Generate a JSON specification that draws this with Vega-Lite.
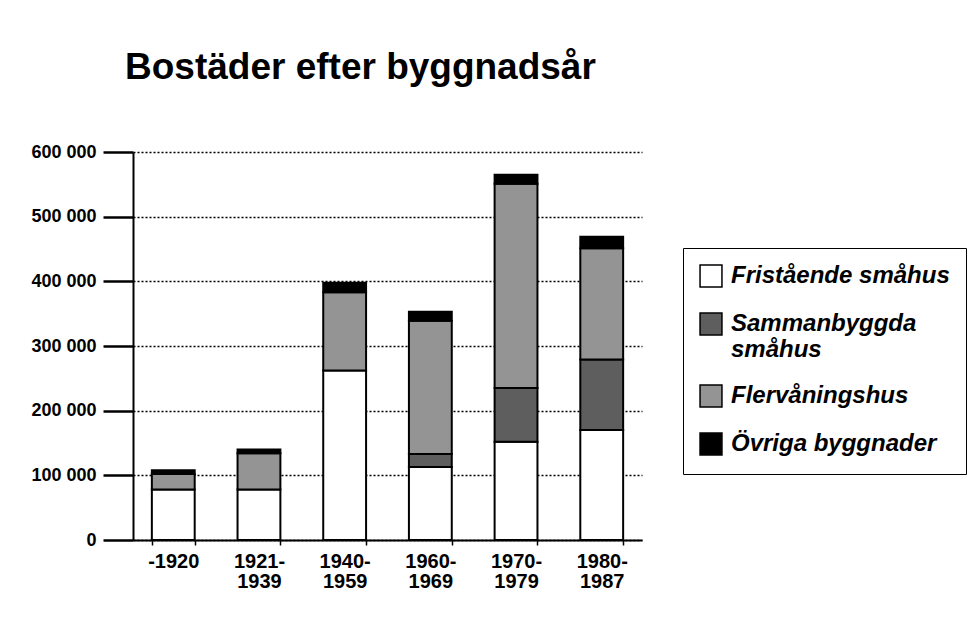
{
  "$schema": "https://vega.github.io/schema/vega-lite/v6.json",
  "autosize": "none",
  "width": 509,
  "height": 388,
  "padding": {"left": 133, "top": 152, "right": 333, "bottom": 94},
  "background": "white",
  "title": {
    "text": "Bostäder efter byggnadsår",
    "anchor": "start",
    "frame": "group",
    "dx": -8,
    "baseline": "alphabetic",
    "offset": 27,
    "font": "Liberation Sans",
    "fontSize": 37,
    "fontWeight": "bold",
    "color": "black"
  },
  "data": {
    "values": [
      {"period": "-1920", "typ": "Fristående småhus", "n": 1, "antal": 78000},
      {"period": "-1920", "typ": "Flervåningshus", "n": 3, "antal": 24000},
      {"period": "-1920", "typ": "Övriga byggnader", "n": 4, "antal": 6000},
      {"period": "1921-1939", "typ": "Fristående småhus", "n": 1, "antal": 78000},
      {"period": "1921-1939", "typ": "Flervåningshus", "n": 3, "antal": 56000},
      {"period": "1921-1939", "typ": "Övriga byggnader", "n": 4, "antal": 6000},
      {"period": "1940-1959", "typ": "Fristående småhus", "n": 1, "antal": 262000},
      {"period": "1940-1959", "typ": "Flervåningshus", "n": 3, "antal": 121000},
      {"period": "1940-1959", "typ": "Övriga byggnader", "n": 4, "antal": 15000},
      {"period": "1960-1969", "typ": "Fristående småhus", "n": 1, "antal": 113000},
      {"period": "1960-1969", "typ": "Sammanbyggda småhus", "n": 2, "antal": 20000},
      {"period": "1960-1969", "typ": "Flervåningshus", "n": 3, "antal": 206000},
      {"period": "1960-1969", "typ": "Övriga byggnader", "n": 4, "antal": 14000},
      {"period": "1970-1979", "typ": "Fristående småhus", "n": 1, "antal": 152000},
      {"period": "1970-1979", "typ": "Sammanbyggda småhus", "n": 2, "antal": 83000},
      {"period": "1970-1979", "typ": "Flervåningshus", "n": 3, "antal": 316000},
      {"period": "1970-1979", "typ": "Övriga byggnader", "n": 4, "antal": 14000},
      {"period": "1980-1987", "typ": "Fristående småhus", "n": 1, "antal": 170000},
      {"period": "1980-1987", "typ": "Sammanbyggda småhus", "n": 2, "antal": 109000},
      {"period": "1980-1987", "typ": "Flervåningshus", "n": 3, "antal": 172000},
      {"period": "1980-1987", "typ": "Övriga byggnader", "n": 4, "antal": 18000}
    ]
  },
  "mark": {"type": "bar", "stroke": "black", "strokeWidth": 2},
  "encoding": {
    "x": {
      "field": "period",
      "type": "nominal",
      "sort": null,
      "scale": {"paddingInner": 0.5, "paddingOuter": 0.22},
      "axis": {
        "title": null,
        "labelAngle": 0,
        "labelExpr": "length(datum.label) > 5 ? [slice(datum.label, 0, 5), slice(datum.label, 5)] : datum.label",
        "labelFont": "Liberation Sans",
        "labelFontSize": 20,
        "labelFontWeight": "bold",
        "labelColor": "black",
        "labelLineHeight": 20,
        "labelBaseline": "top",
        "labelPadding": 6,
        "tickBand": "extent",
        "tickSize": 5,
        "tickColor": "black",
        "tickWidth": 1.5,
        "domainColor": "black",
        "domainWidth": 2
      }
    },
    "y": {
      "field": "antal",
      "type": "quantitative",
      "stack": "zero",
      "scale": {"domain": [0, 600000], "nice": false},
      "axis": {
        "title": null,
        "values": [0, 100000, 200000, 300000, 400000, 500000, 600000],
        "labelExpr": "replace(format(datum.value, ','), /,/g, ' ')",
        "labelFont": "Liberation Sans",
        "labelFontSize": 18,
        "labelFontWeight": "bold",
        "labelColor": "black",
        "labelPadding": 7,
        "tickSize": 30,
        "tickColor": "black",
        "tickWidth": 2.5,
        "domainColor": "black",
        "domainWidth": 2,
        "grid": true,
        "gridColor": "black",
        "gridDash": [2, 2],
        "gridWidth": 1.5,
        "gridOpacity": 1
      }
    },
    "order": {"field": "n", "type": "quantitative", "sort": "ascending"},
    "fill": {
      "field": "typ",
      "type": "nominal",
      "scale": {
        "domain": ["Fristående småhus", "Sammanbyggda småhus", "Flervåningshus", "Övriga byggnader"],
        "range": ["#ffffff", "#5e5e5e", "#949494", "#000000"]
      },
      "legend": {
        "title": null,
        "orient": "none",
        "legendX": 550,
        "legendY": 96,
        "strokeColor": "black",
        "padding": 16,
        "symbolType": "square",
        "symbolSize": 480,
        "symbolStrokeColor": "black",
        "symbolStrokeWidth": 1.5,
        "symbolOpacity": 1,
        "labelExpr": "datum.label == 'Sammanbyggda småhus' ? ['Sammanbyggda', 'småhus'] : datum.label",
        "labelFont": "Liberation Sans",
        "labelFontSize": 24,
        "labelFontStyle": "italic",
        "labelFontWeight": "bold",
        "labelColor": "black",
        "labelLineHeight": 23,
        "labelOffset": 8,
        "labelLimit": 300,
        "rowPadding": 20
      }
    }
  },
  "config": {
    "view": {"stroke": null}
  }
}
